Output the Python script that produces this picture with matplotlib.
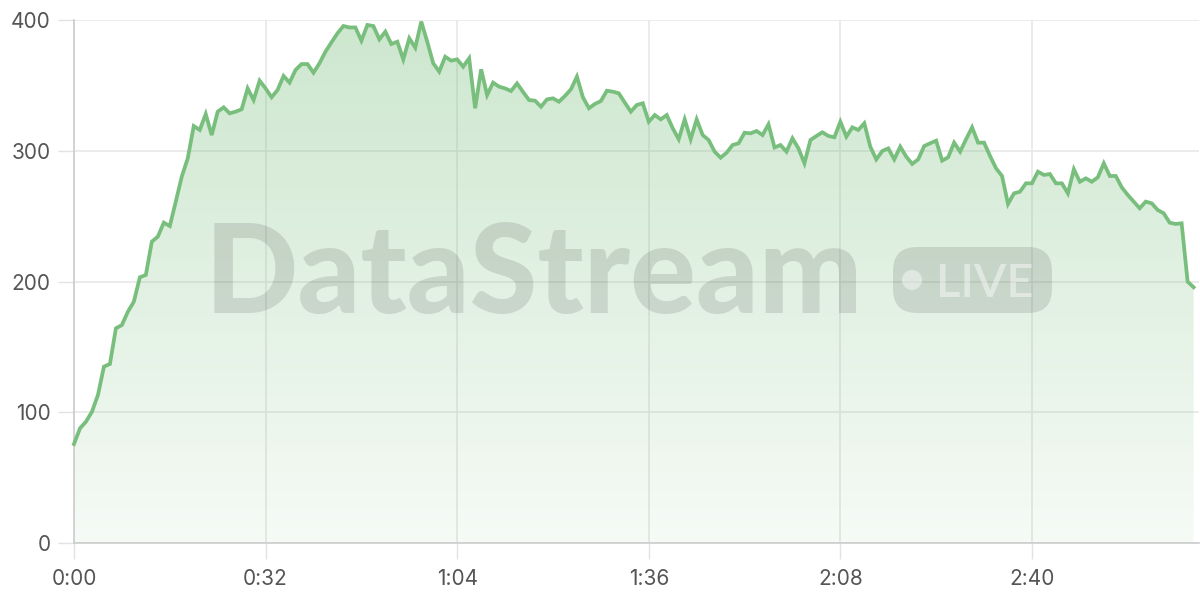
import numpy as np
import matplotlib
matplotlib.use("Agg")
from matplotlib import pyplot as plt
from matplotlib.colors import LinearSegmentedColormap
from matplotlib.patches import Polygon, FancyBboxPatch, Circle
from matplotlib.transforms import IdentityTransform
from matplotlib.ticker import FuncFormatter

plt.rcParams['font.family'] = ['Inter', 'DejaVu Sans']

# one reading per second, 0:00 .. 3:07
values = [
    75.7, 87.7, 92.8, 100.4, 113.2, 134.9, 136.9, 164.2, 166.7, 176.9,
    184.6, 203.2, 205.0, 230.5, 234.3, 245.0, 242.4, 261.1, 280.2, 294.2,
    318.9, 315.9, 328.1, 312.0, 329.9, 333.2, 328.6, 329.9, 331.7, 347.7,
    338.8, 353.6, 347.7, 340.9, 346.5, 357.2, 352.1, 361.8, 366.3, 366.3,
    359.7, 366.9, 375.8, 382.9, 389.8, 395.4, 394.3, 394.3, 384.2, 396.2,
    395.4, 385.2, 391.1, 381.6, 383.4, 369.9, 386.0, 378.8, 398.8, 383.4,
    366.9, 360.5, 371.9, 368.9, 369.9, 364.3, 370.7, 332.5, 362.3, 342.6,
    352.1, 349.0, 347.7, 345.7, 351.5, 345.0, 338.8, 338.3, 333.7, 339.3,
    340.1, 337.5, 341.9, 347.0, 356.7, 340.9, 332.5, 335.8, 338.0, 345.9,
    345.2, 343.9, 336.8, 329.9, 335.0, 336.3, 322.2, 327.3, 324.0, 327.3,
    317.2, 308.8, 324.0, 308.8, 324.0, 312.0, 308.2, 299.3, 294.7, 298.5,
    304.4, 305.7, 313.8, 313.3, 315.1, 312.0, 320.2, 302.5, 304.4, 299.3,
    309.5, 301.8, 290.4, 308.2, 311.3, 314.1, 311.3, 310.3, 322.2, 310.8,
    317.9, 315.9, 321.0, 303.1, 293.4, 299.8, 301.8, 293.4, 303.1, 295.5,
    289.9, 293.4, 303.6, 305.7, 307.7, 292.4, 295.0, 306.2, 299.3, 308.8,
    317.9, 306.2, 306.2, 296.0, 286.6, 280.7, 259.3, 267.4, 268.7, 275.1,
    275.1, 284.0, 281.5, 282.2, 275.1, 275.1, 267.4, 285.8, 276.3, 278.9,
    276.3, 279.7, 290.4, 280.7, 280.7, 272.0, 266.2, 261.1, 256.0, 261.1,
    259.8, 254.7, 252.2, 245.0, 244.0, 244.5, 199.9, 195.6,
]
seconds = list(range(len(values)))
tick_seconds = [0, 32, 64, 96, 128, 160]
y_ticks = [0, 100, 200, 300, 400]

line_color = '#78be7c'
grid_color = '#e8e8e8'
text_color = '#555555'

fig = plt.figure(figsize=(12, 6), dpi=100)
ax = fig.add_axes([74/1200, 57/600, 1125/1200, 523/600])
ax.set_xlim(0, 187.9)
ax.set_ylim(0, 400)

# gradient fill under the line
grad = np.linspace(0, 1, 256).reshape(-1, 1)
cmap = LinearSegmentedColormap.from_list(
    'fade', [(0.47, 0.745, 0.486, 0.07), (0.47, 0.745, 0.486, 0.37)])
im = ax.imshow(grad, extent=[0, seconds[-1], 0, 400], origin='lower',
               aspect='auto', cmap=cmap, zorder=1, interpolation='bilinear')
verts = [(0, 0)] + list(zip(seconds, values)) + [(seconds[-1], 0)]
clip = Polygon(verts, closed=True, facecolor='none', edgecolor='none')
ax.add_patch(clip)
im.set_clip_path(clip)

ax.plot(seconds, values, color=line_color, lw=2.7, zorder=3,
        solid_joinstyle='miter', clip_on=False)

ax.set_xticks(tick_seconds)
ax.set_yticks(y_ticks)
ax.xaxis.set_major_formatter(FuncFormatter(lambda v, p: '%d:%02d' % (v // 60, v % 60)))
ax.set_axisbelow(True)
ax.grid(color=grid_color, lw=1.2)
for s in ['top', 'right']:
    ax.spines[s].set_visible(False)
for s in ['left', 'bottom']:
    ax.spines[s].set_color('#cccccc')
    ax.spines[s].set_linewidth(1.2)
ax.tick_params(axis='both', length=11.5, width=1.0, color='#e2e2e2',
               labelcolor=text_color, labelsize=15)
ax.tick_params(axis='x', pad=7)
ax.tick_params(axis='y', pad=5.5)

# watermark
ident = IdentityTransform()
fig.text(205, 600 - 313, 'DataStream', transform=ident, family=['Lato', 'Liberation Sans'],
         fontweight='black', fontsize=88.5, color='#333333', alpha=0.14,
         ha='left', va='baseline', zorder=5)
badge = FancyBboxPatch((893, 600 - 313), 159, 66,
                       boxstyle='round,pad=0,rounding_size=24',
                       transform=ident, facecolor='#333333', alpha=0.14,
                       edgecolor='none', zorder=5)
fig.add_artist(badge)
fig.add_artist(Circle((912, 600 - 280), 10, transform=ident,
                      facecolor='white', alpha=0.45, edgecolor='none', zorder=6))
fig.text(936, 600 - 297, 'LIVE', transform=ident, family=['Lato', 'Liberation Sans'],
         fontweight='semibold', fontsize=34, color='white', alpha=0.45,
         ha='left', va='baseline', zorder=6)

fig.savefig('out.png', dpi=100)
